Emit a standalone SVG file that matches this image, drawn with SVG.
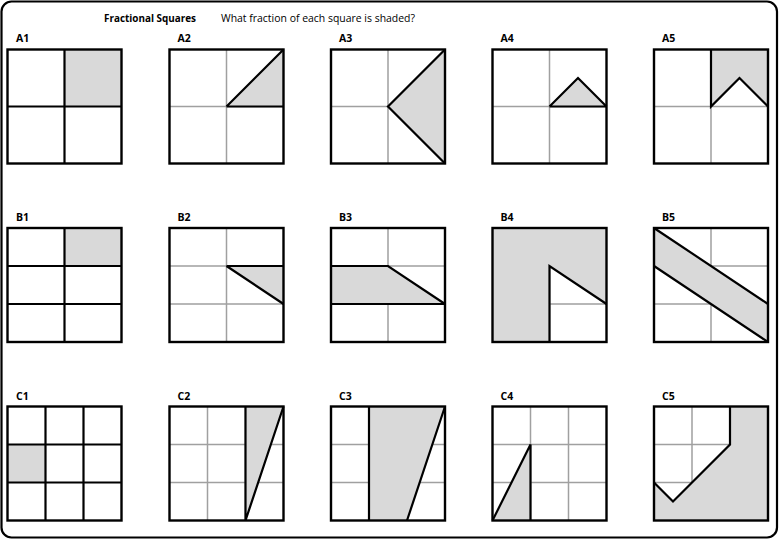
<svg xmlns="http://www.w3.org/2000/svg" width="780" height="540" viewBox="0 0 780 540">
<defs>
<style>
.bg{fill:#ffffff}
.frame{fill:none;stroke:#000;stroke-width:2.2}
.sq{fill:none;stroke:#000;stroke-width:2.4}
.g{fill:none;stroke:#a0a0a0;stroke-width:1.5}
.k{fill:none;stroke:#000;stroke-width:2.2;stroke-linejoin:miter}
.sh{fill:#d9d9d9;stroke:none}
.lbl{font-family:"Open Sans","Liberation Sans",sans-serif;font-size:10.5px;font-weight:bold;fill:#000}
.title{font-family:"Open Sans","Liberation Sans",sans-serif;font-size:10.5px;fill:#000}
</style>
</defs>
<rect x="0" y="0" width="780" height="540" fill="#fff"/>
<rect class="frame" x="1.5" y="1.5" width="775.5" height="536" rx="10" ry="10"/>
<g id="title">
<text class="title" x="104" y="22" textLength="92" lengthAdjust="spacingAndGlyphs" font-weight="bold">Fractional Squares</text>
<text class="title" x="221" y="22" textLength="194" lengthAdjust="spacingAndGlyphs">What fraction of each square is shaded?</text>
</g>
<g id="labels">
<text class="lbl" x="16" y="42">A1</text>
<text class="lbl" x="177.5" y="42">A2</text>
<text class="lbl" x="339" y="42">A3</text>
<text class="lbl" x="500.5" y="42">A4</text>
<text class="lbl" x="662" y="42">A5</text>
<text class="lbl" x="16" y="221">B1</text>
<text class="lbl" x="177.5" y="221">B2</text>
<text class="lbl" x="339" y="221">B3</text>
<text class="lbl" x="500.5" y="221">B4</text>
<text class="lbl" x="662" y="221">B5</text>
<text class="lbl" x="16" y="400">C1</text>
<text class="lbl" x="177.5" y="400">C2</text>
<text class="lbl" x="339" y="400">C3</text>
<text class="lbl" x="500.5" y="400">C4</text>
<text class="lbl" x="662" y="400">C5</text>
</g>
<!-- Row A -->
<g id="A1" transform="translate(7.5,49.5)">
<rect class="bg" width="114" height="114"/>
<rect class="sh" x="57" y="0" width="57" height="57"/>
<path class="k" d="M57 0V114M0 57H114"/>
<rect class="sq" width="114" height="114"/>
</g>
<g id="A2" transform="translate(169.5,49.5)">
<rect class="bg" width="114" height="114"/>
<path class="g" d="M57 0V114M0 57H114"/>
<polygon class="sh" points="57,57 114,0 114,57"/>
<path class="k" d="M57 57L114 0M57 57H114"/>
<rect class="sq" width="114" height="114"/>
</g>
<g id="A3" transform="translate(331,49.5)">
<rect class="bg" width="114" height="114"/>
<path class="g" d="M57 0V114M0 57H114"/>
<polygon class="sh" points="57,57 114,0 114,114"/>
<path class="k" d="M114 0L57 57L114 114"/>
<rect class="sq" width="114" height="114"/>
</g>
<g id="A4" transform="translate(492.5,49.5)">
<rect class="bg" width="114" height="114"/>
<path class="g" d="M57 0V114M0 57H114"/>
<polygon class="sh" points="57,57 85.5,28.5 114,57"/>
<path class="k" d="M57 57L85.5 28.5L114 57M57 57H114"/>
<rect class="sq" width="114" height="114"/>
</g>
<g id="A5" transform="translate(654,49.5)">
<rect class="bg" width="114" height="114"/>
<path class="g" d="M57 0V114M0 57H114"/>
<polygon class="sh" points="57,0 114,0 114,57 85.5,28.5 57,57"/>
<path class="k" d="M57 0V57L85.5 28.5L114 57"/>
<rect class="sq" width="114" height="114"/>
</g>
<!-- Row B -->
<g id="B1" transform="translate(7.5,228)">
<rect class="bg" width="114" height="114"/>
<rect class="sh" x="57" y="0" width="57" height="38"/>
<path class="k" d="M57 0V114M0 38H114M0 76H114"/>
<rect class="sq" width="114" height="114"/>
</g>
<g id="B2" transform="translate(169.5,228)">
<rect class="bg" width="114" height="114"/>
<path class="g" d="M57 0V114M0 38H114M0 76H114"/>
<polygon class="sh" points="57,38 114,38 114,76"/>
<path class="k" d="M57 38H114M57 38L114 76"/>
<rect class="sq" width="114" height="114"/>
</g>
<g id="B3" transform="translate(331,228)">
<rect class="bg" width="114" height="114"/>
<path class="g" d="M57 0V114M0 38H114M0 76H114"/>
<polygon class="sh" points="0,38 57,38 114,76 0,76"/>
<path class="k" d="M0 38H57L114 76M0 76H114"/>
<rect class="sq" width="114" height="114"/>
</g>
<g id="B4" transform="translate(492.5,228)">
<rect class="bg" width="114" height="114"/>
<path class="g" d="M57 0V114M0 38H114M0 76H114"/>
<polygon class="sh" points="0,0 114,0 114,76 57,38 57,114 0,114"/>
<path class="k" d="M57 114V38L114 76"/>
<rect class="sq" width="114" height="114"/>
</g>
<g id="B5" transform="translate(654,228)">
<rect class="bg" width="114" height="114"/>
<path class="g" d="M57 0V114M0 38H114M0 76H114"/>
<polygon class="sh" points="0,0 114,76 114,114 0,38"/>
<path class="k" d="M0 0L114 76M0 38L114 114"/>
<rect class="sq" width="114" height="114"/>
</g>
<!-- Row C -->
<g id="C1" transform="translate(7.5,406.5)">
<rect class="bg" width="114" height="114"/>
<rect class="sh" x="0" y="38" width="38" height="38"/>
<path class="k" d="M38 0V114M76 0V114M0 38H114M0 76H114"/>
<rect class="sq" width="114" height="114"/>
</g>
<g id="C2" transform="translate(169.5,406.5)">
<rect class="bg" width="114" height="114"/>
<path class="g" d="M38 0V114M76 0V114M0 38H114M0 76H114"/>
<polygon class="sh" points="76,0 114,0 76,114"/>
<path class="k" d="M76 0V114M114 0L76 114"/>
<rect class="sq" width="114" height="114"/>
</g>
<g id="C3" transform="translate(331,406.5)">
<rect class="bg" width="114" height="114"/>
<path class="g" d="M38 0V114M76 0V114M0 38H114M0 76H114"/>
<polygon class="sh" points="38,0 114,0 76,114 38,114"/>
<path class="k" d="M38 0V114M114 0L76 114"/>
<rect class="sq" width="114" height="114"/>
</g>
<g id="C4" transform="translate(492.5,406.5)">
<rect class="bg" width="114" height="114"/>
<path class="g" d="M38 0V114M76 0V114M0 38H114M0 76H114"/>
<polygon class="sh" points="0,114 38,38 38,114"/>
<path class="k" d="M0 114L38 38V114"/>
<rect class="sq" width="114" height="114"/>
</g>
<g id="C5" transform="translate(654,406.5)">
<rect class="bg" width="114" height="114"/>
<path class="g" d="M38 0V114M76 0V114M0 38H114M0 76H114"/>
<polygon class="sh" points="76,0 114,0 114,114 0,114 0,76 19,95 76,38"/>
<path class="k" d="M0 76L19 95L76 38V0"/>
<rect class="sq" width="114" height="114"/>
</g>
</svg>
